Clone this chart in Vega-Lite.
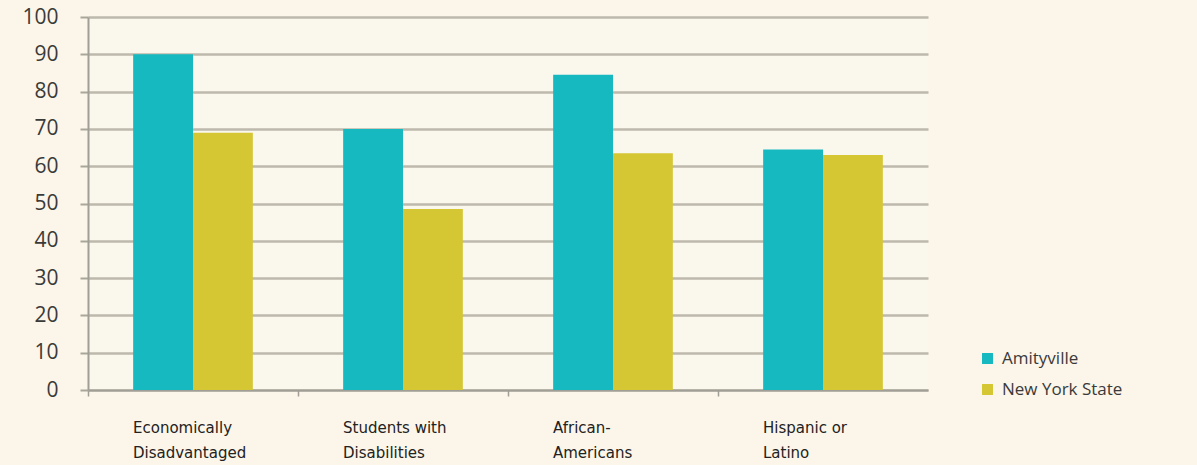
{
  "$schema": "https://vega.github.io/schema/vega-lite/v6.json",
  "width": 840,
  "height": 373,
  "autosize": {"type": "none"},
  "padding": {"left": 88, "top": 17, "right": 269, "bottom": 75},
  "background": "#FCF5E9",
  "data": {
    "values": [
      {"group": "Economically Disadvantaged", "series": "Amityville", "value": 90},
      {"group": "Economically Disadvantaged", "series": "New York State", "value": 69},
      {"group": "Students with Disabilities", "series": "Amityville", "value": 70},
      {"group": "Students with Disabilities", "series": "New York State", "value": 48.5},
      {"group": "African-Americans", "series": "Amityville", "value": 84.5},
      {"group": "African-Americans", "series": "New York State", "value": 63.5},
      {"group": "Hispanic or Latino", "series": "Amityville", "value": 64.5},
      {"group": "Hispanic or Latino", "series": "New York State", "value": 63}
    ]
  },
  "mark": {"type": "bar"},
  "encoding": {
    "x": {
      "field": "group",
      "type": "nominal",
      "sort": null,
      "scale": {"paddingInner": 0.43, "paddingOuter": 0.215},
      "axis": {
        "title": null,
        "labelAngle": 0,
        "bandPosition": -0.375,
        "labelAlign": "left",
        "labelBaseline": "top",
        "labelOffset": -60,
        "labelPadding": 24,
        "labelFont": "DejaVu Sans",
        "labelFontSize": 15,
        "labelLineHeight": 25,
        "labelColor": "#222222",
        "labelExpr": "datum.label == 'Economically Disadvantaged' ? ['Economically', 'Disadvantaged'] : datum.label == 'Students with Disabilities' ? ['Students with', 'Disabilities'] : datum.label == 'African-Americans' ? ['African-', 'Americans'] : ['Hispanic or', 'Latino']",
        "domainColor": "#A09E96",
        "domainWidth": 2,
        "tickColor": "#A09E96",
        "tickSize": 6,
        "tickWidth": 1.5,
        "grid": false
      }
    },
    "xOffset": {"field": "series", "type": "nominal", "sort": ["Amityville", "New York State"]},
    "y": {
      "field": "value",
      "type": "quantitative",
      "scale": {"domain": [0, 100]},
      "axis": {
        "title": null,
        "values": [0, 10, 20, 30, 40, 50, 60, 70, 80, 90, 100],
        "labelFont": "Open Sans",
        "labelFontSize": 21,
        "labelColor": "#3A3A3A",
        "labelPadding": 22,
        "tickSize": 8,
        "tickColor": "#A9A69A",
        "tickWidth": 2,
        "domainColor": "#A09E96",
        "domainWidth": 2,
        "gridColor": "#BDBAAD",
        "gridWidth": 2.5,
        "gridOpacity": 1
      }
    },
    "color": {
      "field": "series",
      "type": "nominal",
      "sort": ["Amityville", "New York State"],
      "scale": {"domain": ["Amityville", "New York State"], "range": ["#17B9C1", "#D5C734"]},
      "legend": {
        "title": null,
        "orient": "none",
        "legendX": 891,
        "legendY": 333,
        "symbolType": "square",
        "symbolSize": 120,
        "symbolStrokeWidth": 0,
        "labelFont": "Open Sans",
        "labelFontSize": 17,
        "labelColor": "#3A3A3A",
        "rowPadding": 13,
        "labelOffset": 6
      }
    }
  },
  "config": {
    "view": {"fill": "#FAF7EC", "stroke": null}
  }
}
